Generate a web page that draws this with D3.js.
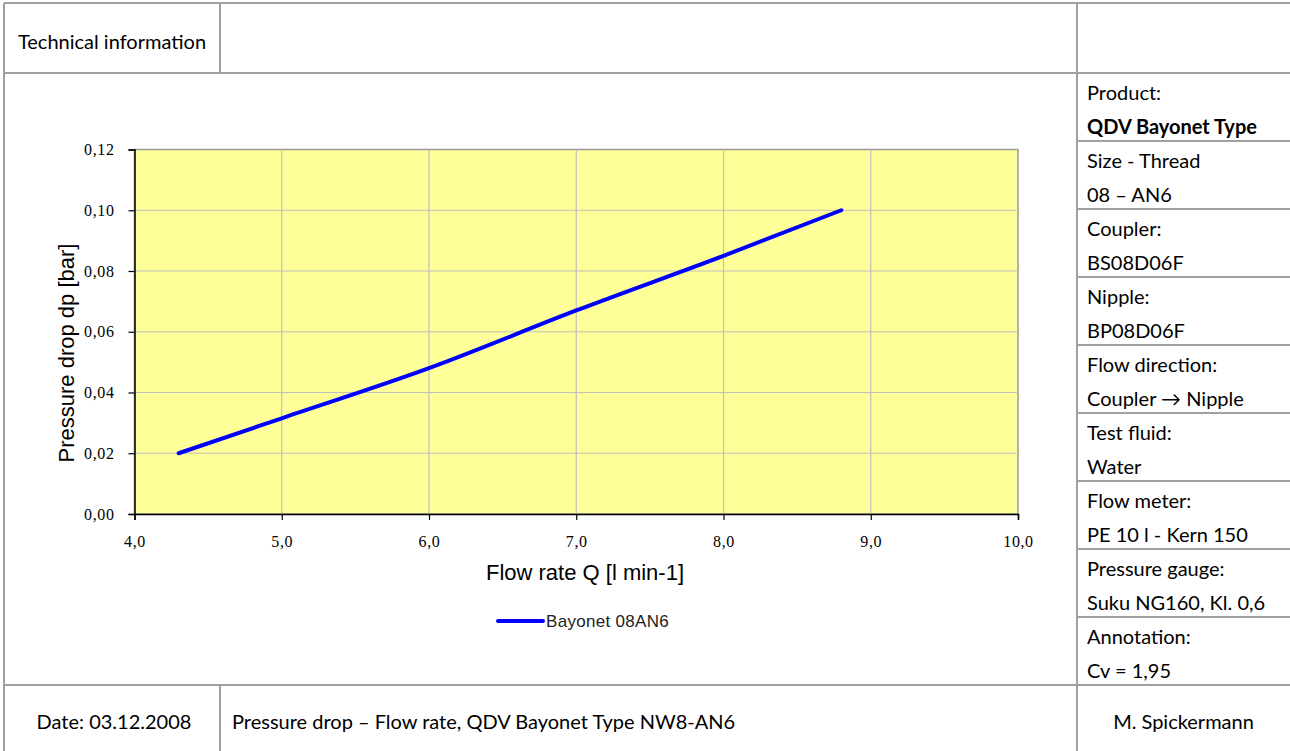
<!DOCTYPE html>
<html>
<head>
<meta charset="utf-8">
<script src="https://cdn.jsdelivr.net/npm/d3@7"></script>
<style>
  body { margin: 0; background: #fff; }
  svg { display: block; }
</style>
</head>
<body>
<div id="chart-area"></div>
<script>
// measured points of the curve
const flowRate = [4.3, 5.0, 6.0, 7.0, 8.0, 8.8];
const pressureDrop = [0.020, 0.0315, 0.048, 0.067, 0.085, 0.100];
const seriesName = "Bayonet 08AN6";

const xTicks = [4, 5, 6, 7, 8, 9, 10];
const yTicks = [0, 0.02, 0.04, 0.06, 0.08, 0.10, 0.12];

// right hand info panel
const infoLabels = ["Product:", "Size - Thread", "Coupler:", "Nipple:", "Flow direction:",
  "Test fluid:", "Flow meter:", "Pressure gauge:", "Annotation:"];
const infoValues = ["QDV Bayonet Type", "08 \u2013 AN6", "BS08D06F", "BP08D06F", "Coupler \u2192 Nipple",
  "Water", "PE 10 l - Kern 150", "Suku NG160, Kl. 0,6", "Cv = 1,95"];

const headerTitle = "Technical information";
const footerDate = "Date: 03.12.2008";
const footerTitle = "Pressure drop \u2013 Flow rate, QDV Bayonet Type NW8-AN6";
const footerAuthor = "M. Spickermann";

const W = 1290, H = 751;
const sheetFont = "Lato, 'Open Sans', sans-serif";
const lineColor = "#a0a0a0";

let svg = d3.select("#chart-area").append("svg")
  .attr("width", W)
  .attr("height", H);

// ---- sheet frame ----
let frame = svg.append("g")
  .attr("stroke", lineColor)
  .attr("stroke-width", 2);
const leftX = 4, topY = 3, headBottom = 73, footTop = 685, col1 = 220, col2 = 1077;
const frameLines = [
  [leftX, topY, W, topY],
  [leftX, topY, leftX, H],
  [leftX, headBottom, W, headBottom],
  [leftX, footTop, W, footTop],
  [col1, topY, col1, headBottom],
  [col1, footTop, col1, H],
  [col2, topY, col2, H]
];
const blockH = (footTop - headBottom) / infoLabels.length;
infoLabels.forEach((d, i) => {
  if (i > 0) frameLines.push([col2, headBottom + i * blockH, W, headBottom + i * blockH]);
});
frame.selectAll("line")
  .data(frameLines)
  .enter()
  .append("line")
  .attr("x1", d => d[0]).attr("y1", d => d[1])
  .attr("x2", d => d[2]).attr("y2", d => d[3]);

let sheetText = svg.append("g")
  .attr("font-family", sheetFont)
  .attr("font-size", 20)
  .attr("fill", "#000")
  .attr("dominant-baseline", "central");

sheetText.append("text")
  .attr("x", (leftX + col1) / 2).attr("y", 41)
  .attr("text-anchor", "middle")
  .text(headerTitle);

// one block per label: label on first line, value on second
let info = sheetText.selectAll("g.info")
  .data(infoLabels)
  .enter()
  .append("g")
  .attr("class", "info")
  .attr("transform", (d, i) => `translate(${col2 + 10}, ${headBottom + i * blockH})`);
info.append("text")
  .attr("y", 19)
  .text(d => d);
info.append("text")
  .attr("y", 53)
  .attr("font-weight", (d, i) => i === 0 ? "bold" : "normal")
  .text((d, i) => infoValues[i]);

sheetText.append("text")
  .attr("x", (leftX + col1) / 2 + 2).attr("y", 721)
  .attr("text-anchor", "middle")
  .text(footerDate);
sheetText.append("text")
  .attr("x", col1 + 12).attr("y", 721)
  .text(footerTitle);
sheetText.append("text")
  .attr("x", (col2 + W) / 2).attr("y", 721)
  .attr("text-anchor", "middle")
  .text(footerAuthor);

// ---- chart ----
const plot = { left: 134.5, right: 1018, top: 149.5, bottom: 514 };
const comma = d3.formatLocale({ decimal: ",", thousands: ".", grouping: [3], currency: ["", ""] });

let x = d3.scaleLinear().domain([4, 10]).range([plot.left, plot.right]);
let y = d3.scaleLinear().domain([0, 0.12]).range([plot.bottom, plot.top]);

let chart = svg.append("g");

chart.append("rect")
  .attr("x", plot.left).attr("y", plot.top)
  .attr("width", plot.right - plot.left)
  .attr("height", plot.bottom - plot.top)
  .attr("fill", "#ffff99")
  .attr("stroke", "#999")
  .attr("stroke-width", 1.5);

// grid
chart.append("g")
  .selectAll("line")
  .data(xTicks.slice(1, -1))
  .enter()
  .append("line")
  .attr("x1", d => x(d)).attr("x2", d => x(d))
  .attr("y1", plot.top).attr("y2", plot.bottom)
  .attr("stroke", "#c0c0c0").attr("stroke-width", 1.2);
chart.append("g")
  .selectAll("line")
  .data(yTicks.slice(1, -1))
  .enter()
  .append("line")
  .attr("y1", d => y(d)).attr("y2", d => y(d))
  .attr("x1", plot.left).attr("x2", plot.right)
  .attr("stroke", "#c0c0c0").attr("stroke-width", 1.2);

let xAxis = d3.axisBottom(x)
  .tickValues(xTicks)
  .tickSize(6)
  .tickPadding(16)
  .tickFormat(comma.format(".1f"));
let yAxis = d3.axisLeft(y)
  .tickValues(yTicks)
  .tickSize(6)
  .tickPadding(14)
  .tickFormat(comma.format(".2f"));

let gx = chart.append("g")
  .attr("transform", `translate(0, ${plot.bottom})`)
  .call(xAxis);
let gy = chart.append("g")
  .attr("transform", `translate(${plot.left}, 0)`)
  .call(yAxis);
[gx, gy].forEach(g => {
  g.select(".domain").attr("stroke", "#000").attr("stroke-width", 1.5);
  g.selectAll(".tick line").attr("stroke", "#000").attr("stroke-width", 1.2);
  g.selectAll(".tick text")
    .attr("font-family", "'Liberation Serif', 'DejaVu Serif', serif")
    .attr("font-size", 16)
    .attr("letter-spacing", 0.6)
    .attr("fill", "#000");
});

// series line
let points = flowRate.map((q, i) => ({ q: q, dp: pressureDrop[i] }));
let line = d3.line()
  .x(d => x(d.q))
  .y(d => y(d.dp))
  .curve(d3.curveMonotoneX);
chart.append("path")
  .datum(points)
  .attr("d", line)
  .attr("fill", "none")
  .attr("stroke", "#0000ff")
  .attr("stroke-width", 4)
  .attr("stroke-linecap", "round");

// axis titles
chart.append("text")
  .attr("x", 585)
  .attr("y", 572)
  .attr("text-anchor", "middle")
  .attr("dominant-baseline", "central")
  .attr("font-family", "'Liberation Sans', Arial, sans-serif")
  .attr("font-size", 22)
  .text("Flow rate Q [l min-1]");
chart.append("text")
  .attr("transform", "translate(66, 353) rotate(-90)")
  .attr("text-anchor", "middle")
  .attr("dominant-baseline", "central")
  .attr("font-family", "'Liberation Sans', Arial, sans-serif")
  .attr("font-size", 22)
  .text("Pressure drop dp [bar]");

// legend
let legend = chart.append("g")
  .attr("transform", "translate(498, 621)");
legend.append("line")
  .attr("x1", 0).attr("x2", 45)
  .attr("stroke", "#0000ff")
  .attr("stroke-width", 4)
  .attr("stroke-linecap", "round");
legend.append("text")
  .attr("x", 48)
  .attr("dominant-baseline", "central")
  .attr("font-family", "'Liberation Sans', Arial, sans-serif")
  .attr("font-size", 17)
  .attr("letter-spacing", 0.3)
  .attr("fill", "#222")
  .text(seriesName);
</script>
</body>
</html>
